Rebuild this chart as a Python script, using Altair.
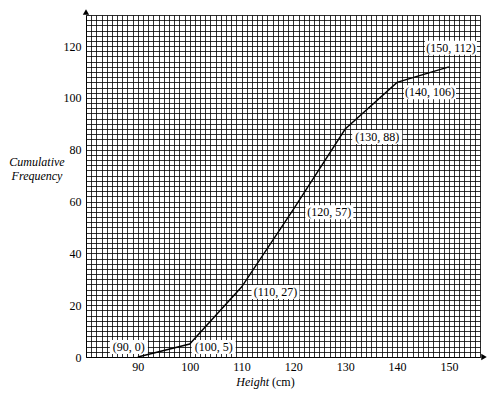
import altair as alt
import pandas as pd

heights = [90, 100, 110, 120, 130, 140, 150]
cumfreq = [0, 5, 27, 57, 88, 106, 112]
labels = ["(90, 0)", "(100, 5)", "(110, 27)", "(120, 57)", "(130, 88)", "(140, 106)", "(150, 112)"]

x_domain = [80, 156]
y_domain = [0, 132]

df = pd.DataFrame({"h": heights, "cf": cumfreq, "lab": labels})

FONT = "Times New Roman, Liberation Serif, serif"
W, H = 394, 342

xs = alt.Scale(domain=x_domain, nice=False, zero=False)
ys = alt.Scale(domain=y_domain, nice=False, zero=False)

x_axis = alt.Axis(
    values=list(range(x_domain[0], x_domain[1] + 1)), tickCount=500, format="d",
    labelExpr="datum.value % 10 == 0 && datum.value >= 90 ? datum.label : ''",
    ticks=False, grid=True, gridColor="black", gridWidth=0.8, gridOpacity=1,
    domainColor="black", domainWidth=1, labelFont=FONT, labelFontSize=12,
    labelColor="black", labelPadding=4, title=None, labelFlush=False, labelOverlap=False,
)
y_axis = alt.Axis(
    values=list(range(y_domain[0], y_domain[1] + 1, 2)), tickCount=500, format="d",
    labelExpr="datum.value % 20 == 0 ? datum.label : ''",
    ticks=False, grid=True, gridColor="black", gridWidth=0.8, gridOpacity=1,
    domainColor="black", domainWidth=1, labelFont=FONT, labelFontSize=12,
    labelColor="black", labelPadding=5, title=None, labelFlush=False, labelOverlap=False,
)

base = alt.Chart(df)

grid = base.mark_point(opacity=0).encode(
    x=alt.X("h:Q", scale=xs, axis=x_axis),
    y=alt.Y("cf:Q", scale=ys, axis=y_axis),
)

line = base.mark_line(color="black", strokeWidth=1.4).encode(
    x=alt.X("h:Q", scale=xs), y=alt.Y("cf:Q", scale=ys)
)

# label placement: (dx, dy, box half-width)
placement = {
    "(90, 0)": (-9, -10, 19),
    "(100, 5)": (24, 3, 22),
    "(110, 27)": (34, 5, 24),
    "(120, 57)": (36, 3, 24),
    "(130, 88)": (32, 8, 25),
    "(140, 106)": (33, 10, 26),
    "(150, 112)": (2, -19, 26),
}

boxes = []
texts = []
for lab, (dx, dy, hw) in placement.items():
    path = f"M{-hw},-7L{hw},-7L{hw},7L{-hw},7Z"
    boxes.append(
        base.transform_filter(alt.datum.lab == lab)
        .mark_point(shape=path, size=4, filled=True, fill="white", opacity=1,
                    strokeWidth=0, xOffset=dx, yOffset=dy)
        .encode(x=alt.X("h:Q", scale=xs), y=alt.Y("cf:Q", scale=ys))
    )
    texts.append(
        base.transform_filter(alt.datum.lab == lab)
        .mark_text(font=FONT, fontSize=12, color="black", dx=dx, dy=dy,
                   align="center", baseline="middle")
        .encode(x=alt.X("h:Q", scale=xs), y=alt.Y("cf:Q", scale=ys), text="lab:N")
    )

arrows_df = pd.DataFrame({
    "ax": [x_domain[0], x_domain[1]],
    "ay": [y_domain[1], y_domain[0]],
})
arrow_up = alt.Chart(arrows_df.iloc[[0]]).mark_point(
    shape="triangle-up", filled=True, color="black", size=40, opacity=1, yOffset=-3
).encode(x=alt.X("ax:Q", scale=xs), y=alt.Y("ay:Q", scale=ys))
arrow_right = alt.Chart(arrows_df.iloc[[1]]).mark_point(
    shape="triangle-right", filled=True, color="black", size=40, opacity=1, xOffset=4
).encode(x=alt.X("ax:Q", scale=xs), y=alt.Y("ay:Q", scale=ys))

t_height = alt.Chart(pd.DataFrame({"t": ["Height"]})).mark_text(
    font=FONT, fontSize=12, fontStyle="italic", align="right", baseline="middle", color="black"
).encode(x=alt.value(183), y=alt.value(367), text="t:N")
t_cm = alt.Chart(pd.DataFrame({"t": ["(cm)"]})).mark_text(
    font=FONT, fontSize=12, align="left", baseline="middle", color="black"
).encode(x=alt.value(186), y=alt.value(367), text="t:N")
t_cum = alt.Chart(pd.DataFrame({"t": ["Cumulative"]})).mark_text(
    font=FONT, fontSize=12, fontStyle="italic", align="center", baseline="middle", color="black"
).encode(x=alt.value(-49), y=alt.value(147), text="t:N")
t_freq = alt.Chart(pd.DataFrame({"t": ["Frequency"]})).mark_text(
    font=FONT, fontSize=12, fontStyle="italic", align="center", baseline="middle", color="black"
).encode(x=alt.value(-49), y=alt.value(161), text="t:N")

chart = alt.layer(
    grid, *boxes, line, *texts, arrow_up, arrow_right, t_height, t_cm, t_cum, t_freq
).properties(
    width=W, height=H,
    autosize=alt.AutoSizeParams(type="none"),
    padding={"left": 78, "top": 7, "right": 12, "bottom": 35},
).configure_view(stroke=None).configure(background="white")

chart.save("out.html", embed_options={"renderer": "svg", "actions": False})
